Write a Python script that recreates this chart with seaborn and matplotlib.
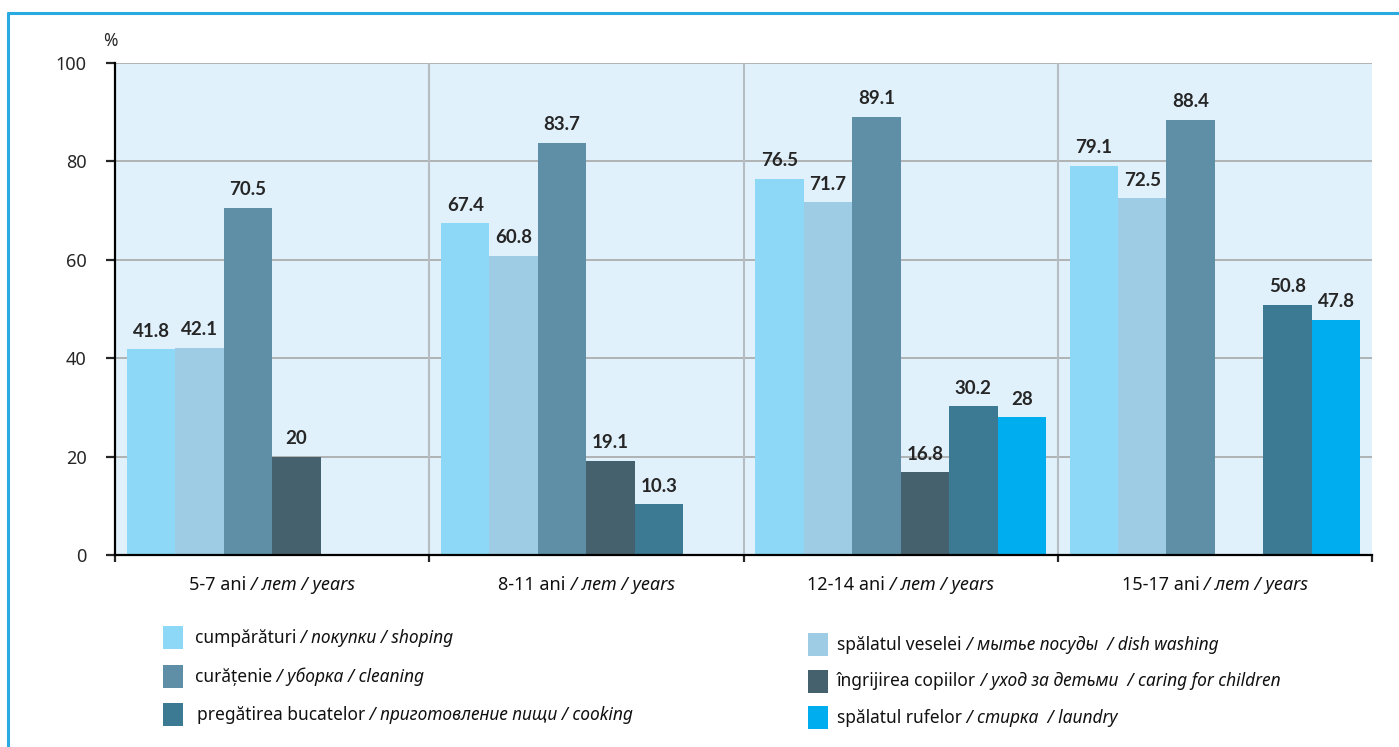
import numpy as np
import pandas as pd
import matplotlib.pyplot as plt
import seaborn as sns
from matplotlib.patches import Rectangle
from matplotlib.lines import Line2D

# Date (procente)
GROUPS = ["5-7", "8-11", "12-14", "15-17"]
TASKS = ["shopping", "dishes", "cleaning", "childcare", "cooking", "laundry"]

shopping = [41.8, 67.4, 76.5, 79.1]
dishes = [42.1, 60.8, 71.7, 72.5]
cleaning = [70.5, 83.7, 89.1, 88.4]
childcare = [20, 19.1, 16.8, np.nan]
cooking = [np.nan, 10.3, 30.2, 50.8]
laundry = [np.nan, np.nan, 28, 47.8]

COLORS = ["#8dd8f6", "#9dcce4", "#5e8fa7", "#46616e", "#3c7a93", "#00aeef"]

# etichete legenda: (parte dreapta, parte italic)
LEGEND_LEFT = [
    ("cumpărături", " / покупки / shoping", 0),
    ("curățenie", " / уборка / cleaning", 2),
    ("pregătirea bucatelor", " / приготовление пищи / cooking", 4),
]
LEGEND_RIGHT = [
    ("spălatul veselei", " / мытье посуды  / dish washing", 1),
    ("îngrijirea copiilor", " / уход за детьми  / caring for children", 3),
    ("spălatul rufelor", " / стирка  / laundry", 5),
]

W, H = 1399, 747

sns.set_style("white")
plt.rcParams["font.family"] = ["Noto Sans", "DejaVu Sans"]

series = [shopping, dishes, cleaning, childcare, cooking, laundry]
rows = []
for task, vals in zip(TASKS, series):
    for g, v in zip(GROUPS, vals):
        rows.append({"group": g, "task": task, "value": v})
df = pd.DataFrame(rows)

fig = plt.figure(figsize=(W / 100, H / 100), dpi=100)
ax = fig.add_axes([115 / W, 1 - 555 / H, (1372 - 115) / W, (555 - 63) / H])
ax.set_facecolor("#e0f1fb")

sns.barplot(data=df, x="group", y="value", hue="task", order=GROUPS,
            hue_order=TASKS, palette=COLORS, saturation=1, width=0.925,
            legend=False, edgecolor="none", linewidth=0, ax=ax)

for c in ax.containers:
    labels = [f"{v:g}" if np.isfinite(v) else "" for v in c.datavalues]
    ax.bar_label(c, labels=labels, padding=7, fontsize=13.5,
                 fontweight="bold", fontfamily=["Lato", "DejaVu Sans"])

ax.set_ylim(0, 100)
ax.set_xlim(-0.5, 3.5)
ax.set_yticks([0, 20, 40, 60, 80, 100])
ax.set_xticks([-0.5, 0.5, 1.5, 2.5, 3.5])
ax.set_xticklabels([])
ax.yaxis.grid(True, color="#a8a8a8", lw=1.2)
ax.set_axisbelow(True)
for xs in [0.5, 1.5, 2.5]:
    ax.axvline(xs, color="#b5bcc2", lw=1.5, zorder=0.8)

ax.set_xlabel("")
ax.set_ylabel("")
for s in ["top", "right"]:
    ax.spines[s].set_visible(False)
for s in ["left", "bottom"]:
    ax.spines[s].set_color("black")
    ax.spines[s].set_linewidth(1.6)
ax.tick_params(axis="y", length=6.5, width=1.6, pad=14, labelsize=13,
               left=True, direction="out")
ax.tick_params(axis="x", length=5, width=1.6, bottom=True, direction="out")

fig.text(110 / W, 1 - 46 / H, "%", fontsize=12.5, ha="center", va="baseline")

renderer = fig.canvas.get_renderer()


def mixed_text(x, y, parts, center=False, size=13):
    texts = []
    for s, style in parts:
        t = fig.text(0, 1 - y / H, s, fontsize=size, style=style,
                     va="baseline", color="#111111")
        texts.append(t)
    widths = [t.get_window_extent(renderer).width for t in texts]
    x0 = x - sum(widths) / 2 if center else x
    for t, w in zip(texts, widths):
        t.set_x(x0 / W)
        x0 += w


# etichete grupe de varsta
for i, g in enumerate(GROUPS):
    xc = 115 + (i + 0.5) * (1372 - 115) / 4
    mixed_text(xc, 590, [(g + " ani", "normal"), (" / лет / years", "italic")],
               center=True)

# legenda
for row, (reg, ita, k) in enumerate(LEGEND_LEFT):
    y = 643 + row * 38.5
    fig.patches.append(Rectangle((163 / W, 1 - (y + 6) / H), 20 / W, 23 / H,
                                 transform=fig.transFigure,
                                 color=COLORS[k], lw=0))
    mixed_text(195 if row < 2 else 197, y, [(reg, "normal"), (ita, "italic")],
               size=12.5)

for row, (reg, ita, k) in enumerate(LEGEND_RIGHT):
    y = 650 + row * 36.5
    fig.patches.append(Rectangle((808 / W, 1 - (y + 6) / H), 20 / W, 23 / H,
                                 transform=fig.transFigure,
                                 color=COLORS[k], lw=0))
    mixed_text(837, y, [(reg, "normal"), (ita, "italic")], size=12.5)

# chenar albastru
fig.lines.append(Line2D([8 / W, 1], [1 - 13 / H, 1 - 13 / H],
                        transform=fig.transFigure, color="#29abe2", lw=2.2))
fig.lines.append(Line2D([8 / W, 8 / W], [0, 1 - 13 / H],
                        transform=fig.transFigure, color="#29abe2", lw=2.2))

fig.savefig("out.png", dpi=100, facecolor="white")
